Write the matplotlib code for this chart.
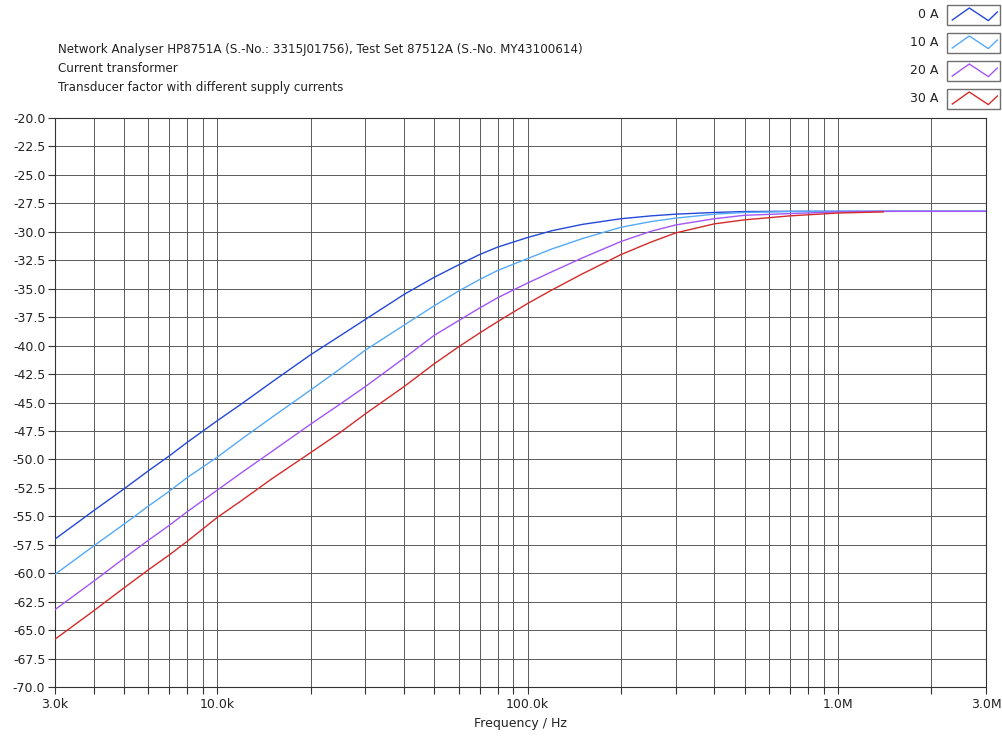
import matplotlib
matplotlib.use("Agg")
import matplotlib.pyplot as plt
from matplotlib.patches import Rectangle
from matplotlib.lines import Line2D
from matplotlib.ticker import FixedLocator, NullFormatter

plt.rcParams['font.family'] = ['DejaVu Sans']

# Frequency in kHz
freq_khz = [3, 4, 5, 6, 7, 8, 10, 12, 15, 20, 25, 30, 40, 50, 60, 70, 80, 100,
            120, 150, 200, 250, 300, 400, 500, 700, 1000, 1500, 2000, 3000]

tf_0A = [-57.0, -54.5, -52.6, -51.0, -49.7, -48.5, -46.6, -45.1, -43.2, -40.8,
         -39.1, -37.7, -35.5, -34.0, -32.9, -32.0, -31.35, -30.5, -29.9, -29.35,
         -28.85, -28.6, -28.45, -28.3, -28.22, -28.2, -28.2, -28.2, -28.2, -28.2]

tf_10A = [-60.1, -57.6, -55.7, -54.1, -52.8, -51.6, -49.8, -48.2, -46.3, -43.9,
          -42.0, -40.4, -38.2, -36.5, -35.2, -34.2, -33.4, -32.35, -31.5, -30.6,
          -29.6, -29.1, -28.8, -28.45, -28.3, -28.22, -28.2, -28.2, -28.2, -28.2]

tf_20A = [-63.2, -60.7, -58.7, -57.1, -55.8, -54.6, -52.7, -51.15, -49.3, -46.9,
          -45.1, -43.6, -41.1, -39.1, -37.8, -36.7, -35.8, -34.5, -33.5, -32.3,
          -30.85, -29.95, -29.4, -28.85, -28.55, -28.4, -28.25, -28.2, -28.2, -28.2]

freq_30A_khz = [3, 4, 5, 6, 7, 8, 10, 12, 15, 20, 25, 30, 40, 50, 60, 70, 80, 100,
                120, 150, 200, 250, 300, 400, 500, 700, 1000, 1400]
tf_30A = [-65.8, -63.3, -61.3, -59.7, -58.4, -57.2, -55.1, -53.6, -51.7, -49.4,
          -47.6, -46.0, -43.6, -41.6, -40.1, -38.9, -37.9, -36.3, -35.1, -33.7,
          -32.0, -30.9, -30.1, -29.3, -28.95, -28.6, -28.35, -28.25]

series_labels = ['0 A', '10 A', '20 A', '30 A']
series_colors = ['#2448d8', '#55aaf8', '#a455f5', '#d42a2a']

major_ticks = [3e3, 1e4, 1e5, 1e6, 3e6]
major_labels = ['3.0k', '10.0k', '100.0k', '1.0M', '3.0M']
minor_ticks = [4e3, 5e3, 6e3, 7e3, 8e3, 9e3,
               2e4, 3e4, 4e4, 5e4, 6e4, 7e4, 8e4, 9e4,
               2e5, 3e5, 4e5, 5e5, 6e5, 7e5, 8e5, 9e5, 2e6]
y_ticks = [-20.0 - 2.5 * i for i in range(21)]

title_lines = ["Network Analyser HP8751A (S.-No.: 3315J01756), Test Set 87512A (S.-No. MY43100614)",
               "Current transformer",
               "Transducer factor with different supply currents"]

W, H = 1002, 736
fig = plt.figure(figsize=(W / 100, H / 100), dpi=100)
ax = fig.add_axes([55 / W, (H - 687) / H, 931 / W, 569 / H])

grid_col = '#5a5a5a'
for x in minor_ticks + major_ticks:
    ax.axvline(x, color=grid_col, lw=0.7, zorder=1)
for y in y_ticks:
    ax.axhline(y, color=grid_col, lw=0.7, zorder=1)

all_f = [[f * 1e3 for f in freq_khz]] * 3 + [[f * 1e3 for f in freq_30A_khz]]
all_v = [tf_0A, tf_10A, tf_20A, tf_30A]
for f, v, c in zip(all_f, all_v, series_colors):
    ax.plot(f, v, color=c, lw=1.0, zorder=3)

ax.set_xscale('log')
ax.set_xlim(3e3, 3e6)
ax.set_ylim(-70, -20)
ax.xaxis.set_major_locator(FixedLocator(major_ticks))
ax.set_xticklabels(major_labels)
ax.xaxis.set_minor_locator(FixedLocator(minor_ticks))
ax.xaxis.set_minor_formatter(NullFormatter())
ax.set_yticks(y_ticks)
ax.set_yticklabels([f"{y:.1f}" for y in y_ticks])
ax.tick_params(axis='both', which='both', direction='out', length=5, width=0.8,
               color='#333333', labelsize=9, labelcolor='#222222')
ax.tick_params(axis='x', which='major', pad=3)
ax.tick_params(axis='y', pad=2)
for s in ax.spines.values():
    s.set_color('#333333')
    s.set_linewidth(0.8)
ax.set_xlabel('Frequency / Hz', fontsize=9, color='#222222', labelpad=4)

# Title lines
for i, t in enumerate(title_lines):
    fig.text(58 / W, 1 - (50 + 18.5 * i) / H, t, fontsize=8.6, color='#222222',
             va='center', ha='left')

# Legend
for i, (lab, c) in enumerate(zip(series_labels, series_colors)):
    top = 5 + 28 * i
    bx, bw, bh = 947, 53, 20
    rect = Rectangle((bx / W, 1 - (top + bh) / H), bw / W, bh / H,
                     transform=fig.transFigure, facecolor='white',
                     edgecolor='#707070', lw=1.0)
    fig.add_artist(rect)
    zx = [0.1, 0.42, 0.78, 0.95]
    zy = [0.25, 0.85, 0.22, 0.65]
    fig.add_artist(Line2D([(bx + bw * a) / W for a in zx],
                          [1 - (top + bh * (1 - b)) / H for b in zy],
                          transform=fig.transFigure, color=c, lw=1.0))
    fig.text(938 / W, 1 - (top + bh / 2) / H, lab, fontsize=9, color='#222222',
             ha='right', va='center')

fig.savefig('out.png', dpi=100)
